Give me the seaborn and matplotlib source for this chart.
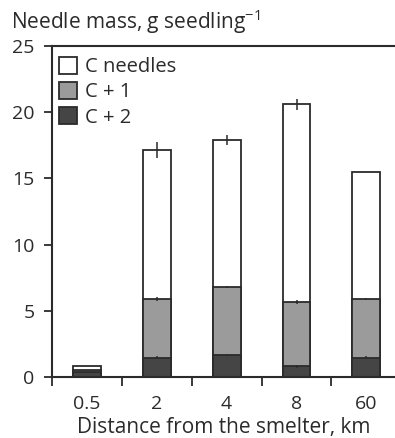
import numpy as np
import pandas as pd
import matplotlib
matplotlib.use("Agg")
import matplotlib.pyplot as plt
import seaborn as sns
from matplotlib.patches import Patch

# Data
distances = ["0.5", "2", "4", "8", "60"]
c2_needles = [0.40, 1.45, 1.65, 0.80, 1.45]
c1_needles = [0.10, 4.45, 5.15, 4.90, 4.45]
c_needles = [0.35, 11.25, 11.10, 14.90, 9.60]
c2_err = [0.0, 0.10, 0.10, 0.10, 0.10]
c1_err = [0.0, 0.15, 0.10, 0.15, 0.10]
total_err = [0.0, 0.60, 0.40, 0.40, 0.0]
series_labels = ["C needles", "C + 1", "C + 2"]
yticks = [0, 5, 10, 15, 20, 25]

sns.set_style("ticks")
plt.rcParams["font.family"] = ["Open Sans", "DejaVu Sans"]
plt.rcParams["mathtext.fontset"] = "custom"
plt.rcParams["mathtext.rm"] = "Open Sans"

FS = 14.5
ink = "#2b2b2b"
col_c = "#ffffff"
col_c1 = "#9b9b9b"
col_c2 = "#454545"

lvl2 = np.array(c2_needles)
lvl1 = lvl2 + np.array(c1_needles)
lvl0 = lvl1 + np.array(c_needles)

df = pd.DataFrame({"dist": distances, "total": lvl0, "mid": lvl1, "low": lvl2})

fig = plt.figure(figsize=(3.95, 4.38), dpi=100)
ax = fig.add_axes([52 / 395, 1 - 377 / 438, 1 - 52 / 395, (377 - 46) / 438])

for col, fc in [("total", col_c), ("mid", col_c1), ("low", col_c2)]:
    sns.barplot(data=df, x="dist", y=col, order=distances, color=fc,
                edgecolor=ink, linewidth=1.3, width=0.4, saturation=1,
                errorbar=None, ax=ax)

xs = np.arange(len(distances))
for y, e in [(lvl0, total_err), (lvl1, c1_err), (lvl2, c2_err)]:
    ax.errorbar(xs, y, yerr=e, fmt="none", ecolor=ink, elinewidth=1.1, capsize=0)

ax.set_xlim(-0.5, 4.41)
ax.set_ylim(0, 25)
ax.set_yticks(yticks)
ax.set_yticklabels([str(t) for t in yticks])

ax.set_xticks(np.arange(-0.5, 4.0, 1.0))
ax.set_xticklabels([])
ax.set_xticks(xs, minor=True)
ax.set_xticklabels(distances, minor=True)
ax.tick_params(axis="x", which="minor", length=0, pad=13)
ax.tick_params(axis="x", which="major", length=6.5, width=1.3, color=ink, direction="out")
ax.tick_params(axis="y", length=6, width=1.3, color=ink, direction="out", pad=6.5)
ax.tick_params(labelsize=14, labelcolor=ink, which="both")

for s in ["left", "bottom", "top"]:
    ax.spines[s].set_visible(True)
    ax.spines[s].set_color(ink)
    ax.spines[s].set_linewidth(1.5)
ax.spines["right"].set_visible(False)

ax.set_xlabel("Distance from the smelter, km", fontsize=15, color=ink, labelpad=3)
ax.set_ylabel("")
fig.text(11 / 395, 1 - 29 / 438, r"Needle mass, g seedling$^{\mathregular{-1}}$",
         fontsize=15, color=ink, ha="left", va="baseline")

handles = [Patch(facecolor=c, edgecolor=ink, linewidth=1.3) for c in [col_c, col_c1, col_c2]]
leg = ax.legend(handles, series_labels, loc="upper left", frameon=False,
                fontsize=FS, handlelength=0.9, handleheight=0.9,
                handletextpad=0.4, labelspacing=0.25,
                bbox_to_anchor=(-0.02, 1.01), borderaxespad=0.3)
for t in leg.get_texts():
    t.set_color(ink)

fig.savefig("out.png", dpi=100)
